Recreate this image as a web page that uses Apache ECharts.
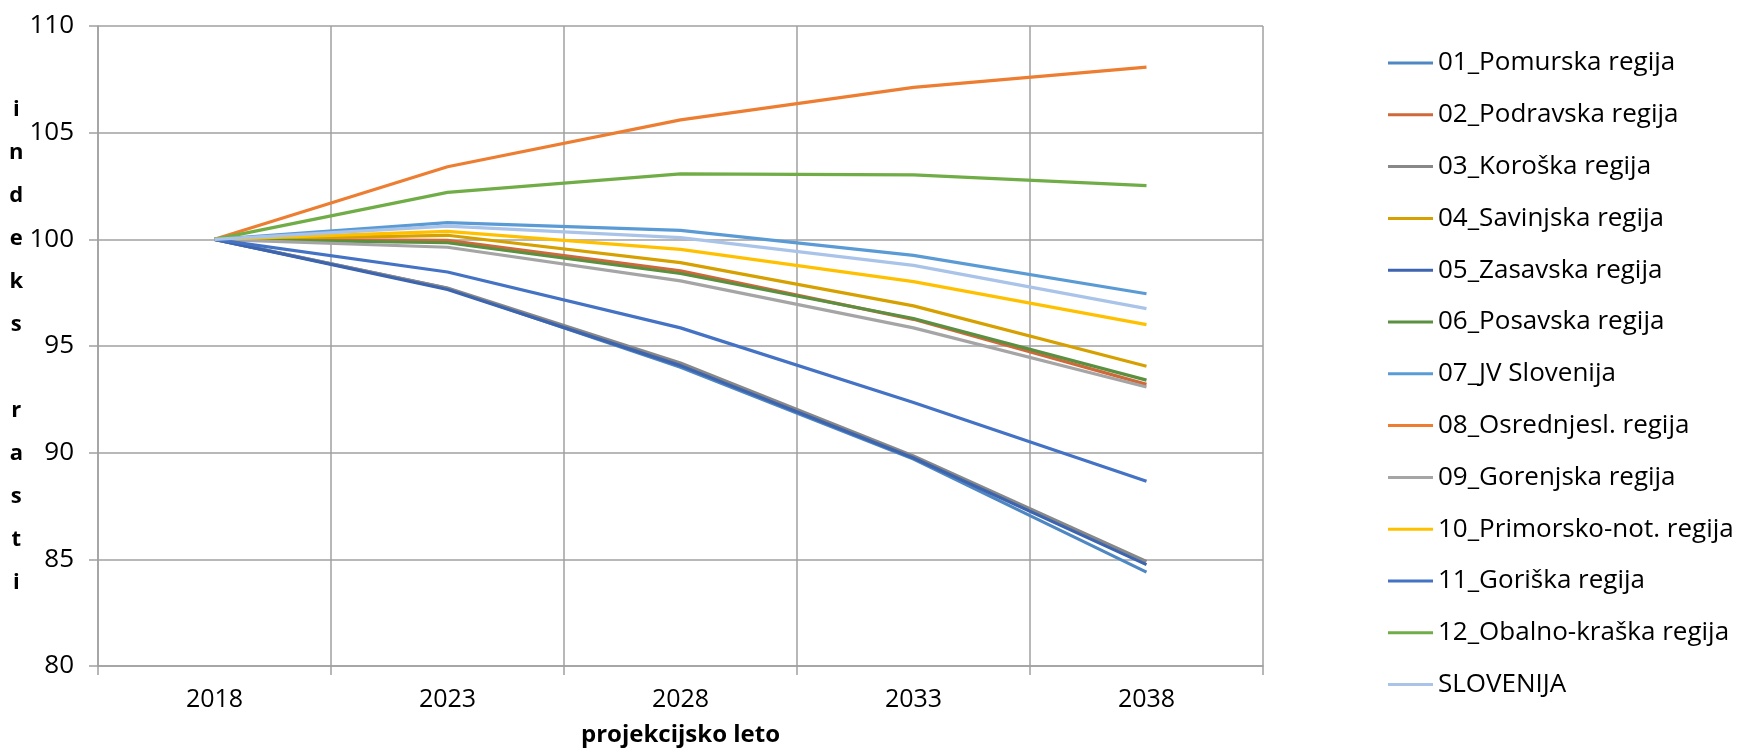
<!DOCTYPE html>
<html>
<head>
<meta charset="utf-8">
<script src="https://cdn.jsdelivr.net/npm/echarts@6/dist/echarts.min.js"></script>
<style>html,body{margin:0;padding:0;background:#fff;}#c{width:1747px;height:752px;}</style>
</head>
<body>
<div id="c"></div>
<script>
const years = ['2018', '2023', '2028', '2033', '2038'];
const seriesNames = ['01_Pomurska regija', '02_Podravska regija', '03_Koroška regija', '04_Savinjska regija', '05_Zasavska regija', '06_Posavska regija', '07_JV Slovenija', '08_Osrednjesl. regija', '09_Gorenjska regija', '10_Primorsko-not. regija', '11_Goriška regija', '12_Obalno-kraška regija', 'SLOVENIJA'];
const pomurska   = [100, 97.70, 94.00, 89.70, 84.40];
const podravska  = [100, 99.95, 98.52, 96.25, 93.20];
const koroska    = [100, 97.72, 94.20, 89.85, 84.90];
const savinjska  = [100, 100.19, 98.91, 96.88, 94.05];
const zasavska   = [100, 97.65, 94.08, 89.75, 84.75];
const posavska   = [100, 99.84, 98.40, 96.29, 93.40];
const jvSlovenija = [100, 100.78, 100.42, 99.25, 97.45];
const osrednjesl = [100, 103.40, 105.60, 107.12, 108.07];
const gorenjska  = [100, 99.63, 98.05, 95.85, 93.08];
const primorsko  = [100, 100.37, 99.53, 98.02, 96.00];
const goriska    = [100, 98.47, 95.85, 92.35, 88.66];
const obalno     = [100, 102.20, 103.07, 103.02, 102.52];
const slovenija  = [100, 100.62, 100.08, 98.78, 96.75];
const yTicks = [80, 85, 90, 95, 100, 105, 110];

const allData = [pomurska, podravska, koroska, savinjska, zasavska, posavska, jvSlovenija, osrednjesl, gorenjska, primorsko, goriska, obalno, slovenija];
const colors = ['#4E87C2', '#D0693A', '#888888', '#D6A100', '#3D64AE', '#5A9040', '#5B9BD5', '#ED7D31', '#A5A5A5', '#FFC000', '#4472C4', '#70AD47', '#A9C4E8'];
const font = 'Open Sans';

const chart = echarts.init(document.getElementById('c'), null, {renderer: 'canvas'});
chart.setOption({
  animation: false,
  color: colors,
  grid: {left: 98, right: 484, top: 26, bottom: 84, containLabel: false},
  legend: {
    orient: 'vertical', left: 1383, top: 45,
    itemWidth: 45, itemHeight: 3, itemGap: 25.8, icon: 'rect',
    textStyle: {fontFamily: font, fontSize: 26, color: '#000'},
    data: seriesNames
  },
  xAxis: {
    type: 'category', data: years, boundaryGap: true,
    name: 'projekcijsko leto', nameLocation: 'middle', nameGap: 57,
    nameTextStyle: {fontFamily: font, fontSize: 24, fontWeight: 'bold', color: '#000'},
    axisLine: {lineStyle: {color: '#A0A0A0', width: 1.5}},
    axisTick: {show: true, length: 9, lineStyle: {color: '#A0A0A0', width: 1.5}},
    axisLabel: {fontFamily: font, fontSize: 25, color: '#000', margin: 21},
    splitLine: {show: true, lineStyle: {color: '#A0A0A0', width: 1.5}}
  },
  yAxis: {
    type: 'value', min: yTicks[0], max: yTicks[yTicks.length - 1], interval: 5,
    name: 'i\nn\nd\ne\nk\ns\n\nr\na\ns\nt\ni', nameLocation: 'middle', nameRotate: 0, nameGap: 76,
    nameTextStyle: {fontFamily: font, fontSize: 22, fontWeight: 'bold', color: '#000', align: 'center', verticalAlign: 'middle', lineHeight: 43},
    axisLine: {show: true, lineStyle: {color: '#A0A0A0', width: 1.5}},
    axisTick: {show: true, length: 9, lineStyle: {color: '#A0A0A0', width: 1.5}},
    axisLabel: {fontFamily: font, fontSize: 26, color: '#000', margin: 24},
    splitLine: {show: true, lineStyle: {color: '#A0A0A0', width: 1.5}}
  },
  series: allData.map((d, i) => ({
    name: seriesNames[i], type: 'line', data: d,
    showSymbol: false, symbol: 'none', smooth: false,
    lineStyle: {width: 3.2, color: colors[i]}, itemStyle: {color: colors[i]}
  }))
});
</script>
</body>
</html>
